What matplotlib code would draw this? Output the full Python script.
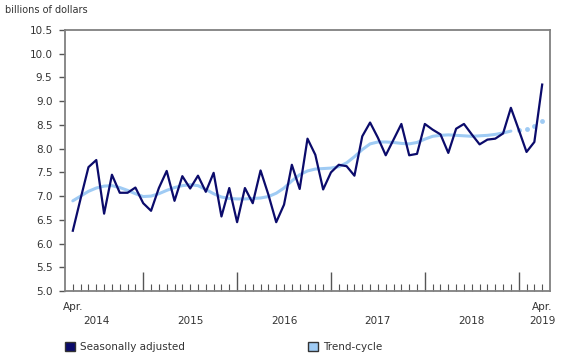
import numpy as np
import matplotlib
matplotlib.use("Agg")
import matplotlib.pyplot as plt
from matplotlib.patches import Patch

# monthly values, Apr. 2014 to Apr. 2019 (billions of dollars)
seasonally_adjusted = [
    6.27, 6.95, 7.61, 7.76, 6.63, 7.45, 7.07, 7.07, 7.18,           # 2014
    6.85, 6.69, 7.17, 7.53, 6.90, 7.42, 7.16, 7.43, 7.09, 7.49, 6.57, 7.17,  # 2015
    6.45, 7.17, 6.85, 7.54, 7.03, 6.45, 6.82, 7.66, 7.15, 8.21, 7.87, 7.14,  # 2016
    7.50, 7.66, 7.63, 7.43, 8.26, 8.55, 8.23, 7.86, 8.19, 8.52, 7.86, 7.89,  # 2017
    8.52, 8.40, 8.30, 7.91, 8.42, 8.52, 8.30, 8.09, 8.19, 8.21, 8.32, 8.86,  # 2018
    8.40, 7.93, 8.14, 9.35,                                           # 2019
]
trend_cycle = [
    6.90, 7.00, 7.10, 7.17, 7.21, 7.22, 7.18, 7.12, 7.05,
    6.99, 7.00, 7.05, 7.12, 7.18, 7.22, 7.24, 7.22, 7.14, 7.05, 6.98, 6.95,
    6.94, 6.94, 6.95, 6.96, 6.99, 7.06, 7.17, 7.32, 7.45, 7.53, 7.57, 7.58,
    7.59, 7.62, 7.70, 7.83, 7.98, 8.10, 8.14, 8.14, 8.13, 8.11, 8.10, 8.13,
    8.20, 8.26, 8.28, 8.29, 8.28, 8.27, 8.26, 8.27, 8.28, 8.30, 8.33, 8.37,
    8.40, 8.42, 8.47, 8.58,
]
n_solid_trend = 57          # the last four trend points are drawn as dots
year_labels = ["2014", "2015", "2016", "2017", "2018"]
year_label_pos = [3, 15, 27, 39, 51]
january_idx = [9, 21, 33, 45, 57]

navy = "#0b0b6b"
light_blue = "#9fcbf4"
txt = "#333333"

x = np.arange(len(seasonally_adjusted))

fig = plt.figure(figsize=(5.8, 3.6), dpi=100)
ax = fig.add_axes([65 / 580, 1 - 291 / 360, 485 / 580, 261 / 360])

ax.plot(x[:n_solid_trend], trend_cycle[:n_solid_trend], color=light_blue, lw=2.2,
        solid_capstyle="round", zorder=2)
ax.plot(x[n_solid_trend:], trend_cycle[n_solid_trend:], ls="none", marker="o",
        ms=3.5, color=light_blue, mec="none", zorder=2)
ax.plot(x, seasonally_adjusted, color=navy, lw=1.6, zorder=3)

ax.set_xlim(-1, len(x))
ax.set_ylim(5.0, 10.5)

ax.set_yticks(np.arange(5.0, 10.51, 0.5))
ax.set_yticklabels([f"{v:.1f}" for v in np.arange(5.0, 10.51, 0.5)], fontsize=7.5, color=txt)
ax.tick_params(axis="y", direction="out", length=4, width=1, color="#555555", pad=5)

ax.set_xticks(january_idx)
ax.set_xticklabels([])
ax.set_xticks(x, minor=True)
ax.tick_params(axis="x", which="major", direction="in", length=14, width=1, color="#555555")
ax.tick_params(axis="x", which="minor", direction="in", length=5, width=0.8, color="#555555")

for s in ax.spines.values():
    s.set_color("#808080")
    s.set_linewidth(1.3)

# x-axis labels
xt = ax.get_xaxis_transform()
for pos, lab in zip(year_label_pos, year_labels):
    ax.text(pos, -0.115, lab, transform=xt, ha="center", va="center", fontsize=7.5, color=txt)
ax.text(0, -0.061, "Apr.", transform=xt, ha="center", va="center", fontsize=7.5, color=txt)
ax.text(x[-1], -0.061, "Apr.", transform=xt, ha="center", va="center", fontsize=7.5, color=txt)
ax.text(x[-1], -0.115, "2019", transform=xt, ha="center", va="center", fontsize=7.5, color=txt)

fig.text(5 / 580, 1 - 10 / 360, "billions of dollars", fontsize=7, color=txt,
         ha="left", va="center")

leg1 = fig.legend(handles=[Patch(facecolor=navy, edgecolor="#333333", label="Seasonally adjusted")],
                  loc="center left", bbox_to_anchor=(56 / 580, 1 - 347 / 360), frameon=False,
                  fontsize=7.5, handlelength=0.9, handleheight=0.9, handletextpad=0.5)
leg2 = fig.legend(handles=[Patch(facecolor=light_blue, edgecolor="#333333", label="Trend-cycle")],
                  loc="center left", bbox_to_anchor=(299 / 580, 1 - 347 / 360), frameon=False,
                  fontsize=7.5, handlelength=0.9, handleheight=0.9, handletextpad=0.5)
for lg in (leg1, leg2):
    for t in lg.get_texts():
        t.set_color(txt)

fig.savefig("out.png", dpi=100)
